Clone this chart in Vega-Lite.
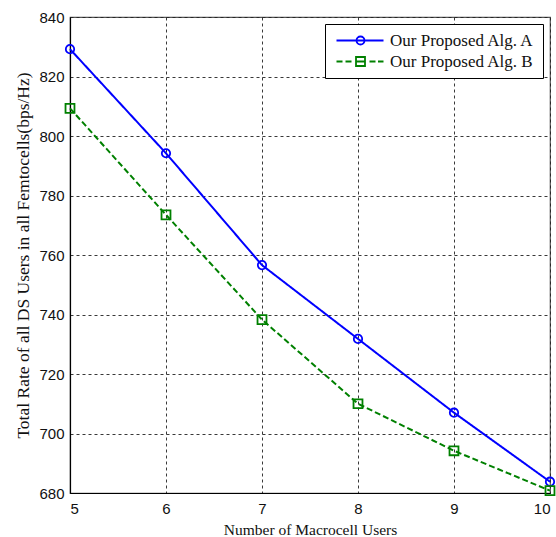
{
  "$schema": "https://vega.github.io/schema/vega-lite/v6.json",
  "autosize": "none",
  "padding": {"left": 70, "top": 17, "right": 6, "bottom": 44},
  "width": 480,
  "height": 476,
  "background": "white",
  "config": {
    "view": {"stroke": "#555", "strokeWidth": 1.2},
    "axis": {
      "domainColor": "black",
      "domainWidth": 1.2,
      "ticks": false,
      "grid": true,
      "gridColor": "#222",
      "gridDash": [3, 3],
      "gridWidth": 0.9,
      "gridOpacity": 1,
      "labelFont": "Liberation Sans",
      "labelFontSize": 15,
      "labelColor": "#111",
      "titleFont": "Liberation Serif",
      "titleFontSize": 15.5,
      "titleFontWeight": "normal",
      "titleColor": "#111"
    },
    "legend": {
      "labelFont": "Liberation Serif",
      "labelFontSize": 17,
      "labelColor": "#111"
    }
  },
  "data": {
    "values": [
      {"users": 5, "rate": 829.2, "alg": "Our Proposed Alg. A"},
      {"users": 6, "rate": 794.2, "alg": "Our Proposed Alg. A"},
      {"users": 7, "rate": 756.6, "alg": "Our Proposed Alg. A"},
      {"users": 8, "rate": 731.8, "alg": "Our Proposed Alg. A"},
      {"users": 9, "rate": 707.0, "alg": "Our Proposed Alg. A"},
      {"users": 10, "rate": 683.8, "alg": "Our Proposed Alg. A"},
      {"users": 5, "rate": 809.3, "alg": "Our Proposed Alg. B"},
      {"users": 6, "rate": 773.5, "alg": "Our Proposed Alg. B"},
      {"users": 7, "rate": 738.3, "alg": "Our Proposed Alg. B"},
      {"users": 8, "rate": 710.0, "alg": "Our Proposed Alg. B"},
      {"users": 9, "rate": 694.2, "alg": "Our Proposed Alg. B"},
      {"users": 10, "rate": 680.8, "alg": "Our Proposed Alg. B"}
    ]
  },
  "encoding": {
    "x": {
      "field": "users", "type": "quantitative",
      "scale": {"domain": [5, 10], "nice": false, "zero": false},
      "axis": {"values": [5, 6, 7, 8, 9, 10], "title": "Number of Macrocell Users", "labelPadding": 8, "titlePadding": 6}
    },
    "y": {
      "field": "rate", "type": "quantitative",
      "scale": {"domain": [680, 840], "nice": false, "zero": false},
      "axis": {"values": [680, 700, 720, 740, 760, 780, 800, 820, 840], "title": "Total Rate of all DS Users in all Femtocells(bps/Hz)", "titleFontSize": 17.5, "labelPadding": 6, "titlePadding": 6}
    }
  },
  "layer": [
    {
      "mark": {"type": "line", "strokeWidth": 2},
      "encoding": {
        "stroke": {"field": "alg", "type": "nominal", "scale": {"range": ["#0000ff", "#008000"]}, "legend": null},
        "strokeDash": {"field": "alg", "type": "nominal", "scale": {"range": [[1, 0], [6, 3]]}, "legend": null}
      }
    },
    {
      "transform": [{"filter": "datum.alg === 'Our Proposed Alg. A'"}],
      "mark": {"type": "point", "shape": "circle", "filled": false, "strokeWidth": 1.8, "opacity": 1, "size": 70},
      "encoding": {
        "color": {
          "field": "alg", "type": "nominal",
          "scale": {"domain": ["Our Proposed Alg. A", "Our Proposed Alg. B"], "range": ["#0000ff", "#008000"]},
          "legend": {
            "title": null,
            "orient": "top-right",
            "offset": 7,
            "padding": 8,
            "strokeColor": "black",
            "fillColor": "white",
            "symbolSize": 100,
            "symbolStrokeWidth": 1.8,
            "symbolFillColor": "transparent",
            "labelOffset": 40,
            "rowPadding": 3,
            "symbolType": {"expr": "datum.value === 'Our Proposed Alg. A' ? 'M -1 0 L 8.4 0 M 3 0 A 0.8 0.8 0 1 0 4.6 0 A 0.8 0.8 0 1 0 3 0 Z' : 'M 2.9 -0.9 L 4.7 -0.9 L 4.7 0.9 L 2.9 0.9 Z M -1 0 L 0.2 0 M 0.8 0 L 2 0 M 2.9 0 L 4.7 0 M 5.6 0 L 6.8 0 M 7.3 0 L 8.4 0'"}
          }
        }
      }
    },
    {
      "transform": [{"filter": "datum.alg === 'Our Proposed Alg. B'"}],
      "mark": {"type": "point", "shape": "square", "filled": false, "strokeWidth": 1.8, "opacity": 1, "size": 80},
      "encoding": {
        "color": {"field": "alg", "type": "nominal"}
      }
    }
  ]
}
